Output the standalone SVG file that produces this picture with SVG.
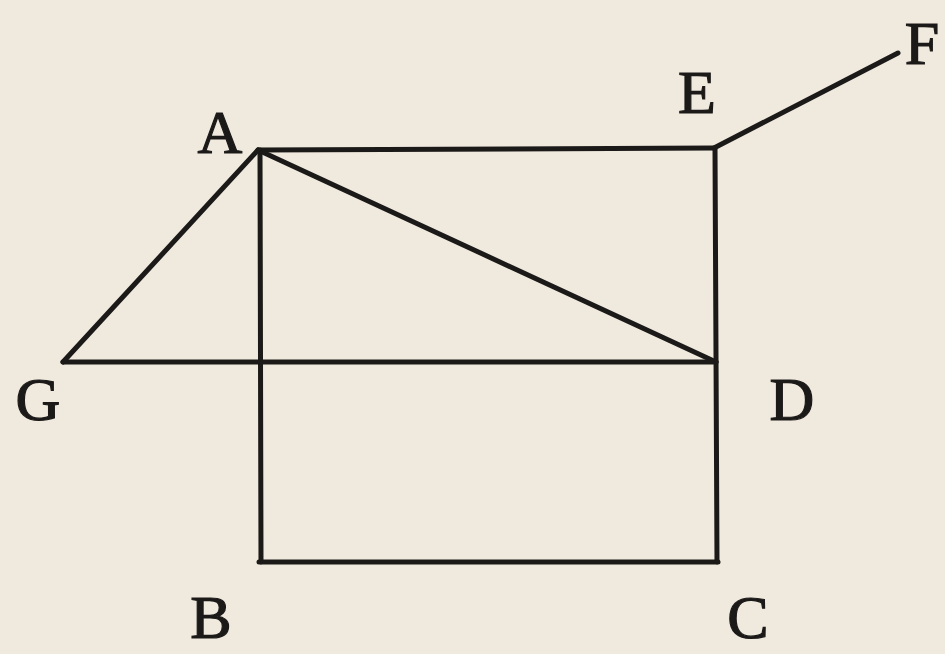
<svg xmlns="http://www.w3.org/2000/svg" width="945" height="654" viewBox="0 0 945 654">
<style>
.bg{fill:#efe9de}
.ln{stroke:#1c1a18;stroke-width:5;stroke-linecap:round;fill:none}
.lb{font-family:"Liberation Serif","Times New Roman",serif;font-size:62px;fill:#1c1a18;stroke:#1c1a18;stroke-width:1.2;text-anchor:middle}
</style>
<rect class="bg" x="0" y="0" width="945" height="654"/>
<g id="connectors">
<line class="ln" x1="258" y1="150" x2="714" y2="148"/>
<line class="ln" x1="715" y1="148" x2="717" y2="562"/>
<line class="ln" x1="260" y1="150" x2="261" y2="562"/>
<line class="ln" x1="259" y1="562" x2="718" y2="562"/>
<line class="ln" x1="258" y1="150" x2="716" y2="362"/>
<line class="ln" x1="63" y1="362" x2="716" y2="362"/>
<line class="ln" x1="258" y1="150" x2="63" y2="362"/>
<line class="ln" x1="714" y1="148" x2="898" y2="53"/>
</g>
<g id="A"><text class="lb" x="220" y="153">A</text></g>
<g id="E"><text class="lb" x="697" y="113">E</text></g>
<g id="F"><text class="lb" x="922" y="64">F</text></g>
<g id="G"><text class="lb" x="38" y="420">G</text></g>
<g id="D"><text class="lb" x="792" y="420">D</text></g>
<g id="B"><text class="lb" x="211" y="638">B</text></g>
<g id="C"><text class="lb" x="748" y="638">C</text></g>
</svg>
